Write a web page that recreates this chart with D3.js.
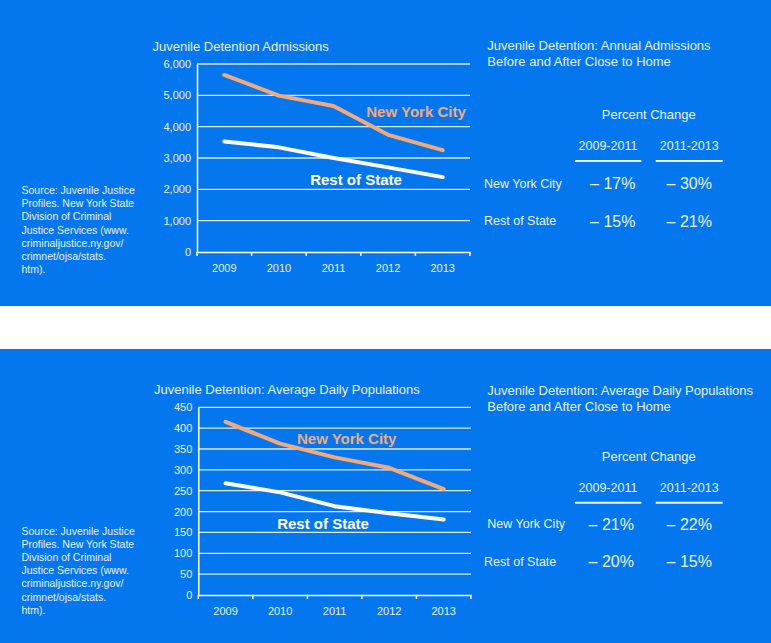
<!DOCTYPE html>
<html>
<head>
<meta charset="utf-8">
<script src="https://cdn.jsdelivr.net/npm/d3@7"></script>
<style>
  html, body { margin: 0; padding: 0; background: #ffffff; }
  svg { display: block; }
  text { font-family: "Liberation Sans", Arial, sans-serif; }
</style>
</head>
<body>
<svg id="chart" width="771" height="643"></svg>
<script>
// ---------- DATA ----------
const years = ["2009", "2010", "2011", "2012", "2013"];
const admissionsNYC = [5650, 4990, 4660, 3740, 3250];
const admissionsROS = [3530, 3340, 3000, 2700, 2390];
const populationNYC = [415, 363, 330, 305, 254];
const populationROS = [268, 246, 213, 196, 181];
const admissionsTicks = [0, 1000, 2000, 3000, 4000, 5000, 6000];
const populationTicks = [0, 50, 100, 150, 200, 250, 300, 350, 400, 450];
const seriesNames = ["New York City", "Rest of State"];
const periods = ["2009-2011", "2011-2013"];
const admissionsChange = [["– 17%", "– 30%"], ["– 15%", "– 21%"]];
const populationChange = [["– 21%", "– 22%"], ["– 20%", "– 15%"]];
const sourceLines = ["Source: Juvenile Justice", "Profiles. New York State", "Division of Criminal",
  "Justice Services (www.", "criminaljustice.ny.gov/", "crimnet/ojsa/stats.", "htm)."];

// ---------- STYLE ----------
const BG = "#0477ef";
const TXT = "#e9f1ff";
const ORANGE = "#f4aa78";
const WHITE = "#ffffff";

const svg = d3.select("#chart");

function drawPanel(cfg) {
  svg.append("rect").attr("x", 0).attr("y", cfg.bgTop).attr("width", 771)
    .attr("height", cfg.bgBottom - cfg.bgTop).attr("fill", BG);

  const g = svg.append("g");
  const x = d3.scaleBand().domain(years).range([cfg.x0, cfg.x1]);
  const y = d3.scaleLinear().domain([0, d3.max(cfg.ticks)]).range([cfg.y0, cfg.y1]);

  g.append("text").attr("x", cfg.titleX).attr("y", cfg.titleY)
    .attr("fill", TXT).attr("font-size", 13).text(cfg.title);

  g.append("g").selectAll("line").data(cfg.ticks.filter(t => t > 0)).join("line")
    .attr("x1", cfg.x0).attr("x2", cfg.x1)
    .attr("y1", d => y(d)).attr("y2", d => y(d))
    .attr("stroke", "#ffffff").attr("stroke-opacity", 0.85).attr("stroke-width", 1.3);

  const ya = g.append("g").attr("transform", `translate(${cfg.x0},0)`)
    .call(d3.axisLeft(y).tickValues(cfg.ticks).tickSize(0).tickPadding(6)
      .tickFormat(d3.format(",")));
  ya.select(".domain").attr("stroke", "#ffffff").attr("stroke-width", 1.5);
  ya.selectAll("text").attr("fill", TXT).attr("font-size", 11)
    .attr("font-family", "Liberation Sans, Arial, sans-serif");

  const xa = g.append("g").attr("transform", `translate(0,${cfg.y0})`)
    .call(d3.axisBottom(x).tickSize(0).tickPadding(12));
  xa.select(".domain").attr("stroke", "#ffffff").attr("stroke-width", 1.5);
  xa.selectAll("text").attr("fill", TXT).attr("font-size", 11)
    .attr("font-family", "Liberation Sans, Arial, sans-serif");
  const bounds = years.map(d => x(d)).concat([cfg.x1]);
  xa.append("g").selectAll("line").data(bounds).join("line")
    .attr("x1", d => d).attr("x2", d => d).attr("y1", 0).attr("y2", 4)
    .attr("stroke", "#ffffff").attr("stroke-width", 1.5);

  const line = d3.line()
    .x((d, i) => x(years[i]) + x.bandwidth() / 2)
    .y(d => y(d))
    .curve(d3.curveLinear);

  g.append("path").datum(cfg.ros).attr("d", line).attr("fill", "none")
    .attr("stroke", WHITE).attr("stroke-width", 4).attr("stroke-linecap", "round")
    .attr("stroke-linejoin", "round");
  g.append("path").datum(cfg.nyc).attr("d", line).attr("fill", "none")
    .attr("stroke", ORANGE).attr("stroke-width", 4).attr("stroke-linecap", "round")
    .attr("stroke-linejoin", "round");

  g.append("text").attr("x", cfg.nycLabel[0]).attr("y", cfg.nycLabel[1])
    .attr("text-anchor", "middle").attr("font-weight", "bold").attr("font-size", 15)
    .attr("fill", ORANGE).text(seriesNames[0]);
  g.append("text").attr("x", cfg.rosLabel[0]).attr("y", cfg.rosLabel[1])
    .attr("text-anchor", "middle").attr("font-weight", "bold").attr("font-size", 15)
    .attr("fill", WHITE).text(seriesNames[1]);

  g.append("g").selectAll("text").data(sourceLines).join("text")
    .attr("x", 21.5).attr("y", (d, i) => cfg.sourceY + i * 13.2)
    .attr("fill", TXT).attr("font-size", 10.5).text(d => d);

  const t = cfg.table;
  g.append("text").attr("x", 487.3).attr("y", t.titleY).attr("fill", TXT).attr("font-size", 13)
    .text(t.title1);
  g.append("text").attr("x", 487.3).attr("y", t.titleY + 16.4).attr("fill", TXT).attr("font-size", 13)
    .text("Before and After Close to Home");
  g.append("text").attr("x", 648.8).attr("y", t.pcY).attr("text-anchor", "middle")
    .attr("fill", TXT).attr("font-size", 13).text("Percent Change");
  const colX = [608, 689.2];
  const colU = [[575, 641.3], [655.7, 722.7]];
  periods.forEach((p, i) => {
    g.append("text").attr("x", colX[i]).attr("y", t.headY).attr("text-anchor", "middle")
      .attr("fill", TXT).attr("font-size", 12.5).text(p);
    g.append("line").attr("x1", colU[i][0]).attr("x2", colU[i][1])
      .attr("y1", t.headY + 11).attr("y2", t.headY + 11)
      .attr("stroke", TXT).attr("stroke-width", 2);
  });
  seriesNames.forEach((s, r) => {
    g.append("text").attr("x", t.rowX[r]).attr("y", t.rowY[r]).attr("fill", TXT)
      .attr("font-size", 12.5).text(s);
    t.values[r].forEach((v, c) => {
      g.append("text").attr("x", t.valX[c]).attr("y", t.rowY[r] + 1.6).attr("text-anchor", "middle")
        .attr("fill", TXT).attr("font-size", 16).text(v);
    });
  });
}

drawPanel({
  bgTop: 0, bgBottom: 306,
  x0: 197, x1: 470, y0: 252, y1: 64,
  ticks: admissionsTicks,
  title: "Juvenile Detention Admissions", titleX: 152.5, titleY: 51,
  nyc: admissionsNYC, ros: admissionsROS,
  nycLabel: [416, 117], rosLabel: [356, 184.5],
  sourceY: 194,
  table: {
    title1: "Juvenile Detention: Annual Admissions", titleY: 49.5,
    pcY: 118.5, headY: 150,
    rowX: [484, 484], rowY: [187.7, 225],
    valX: [612.8, 689.3],
    values: admissionsChange
  }
});

drawPanel({
  bgTop: 349, bgBottom: 643,
  x0: 198.3, x1: 471, y0: 595, y1: 407.3,
  ticks: populationTicks,
  title: "Juvenile Detention: Average Daily Populations", titleX: 154, titleY: 393.5,
  nyc: populationNYC, ros: populationROS,
  nycLabel: [346.7, 443.5], rosLabel: [323, 528.5],
  sourceY: 534.5,
  table: {
    title1: "Juvenile Detention: Average Daily Populations", titleY: 394.5,
    pcY: 460.7, headY: 491.7,
    rowX: [487.3, 484], rowY: [528.3, 565.7],
    valX: [611.3, 689.3],
    values: populationChange
  }
});
</script>
</body>
</html>
